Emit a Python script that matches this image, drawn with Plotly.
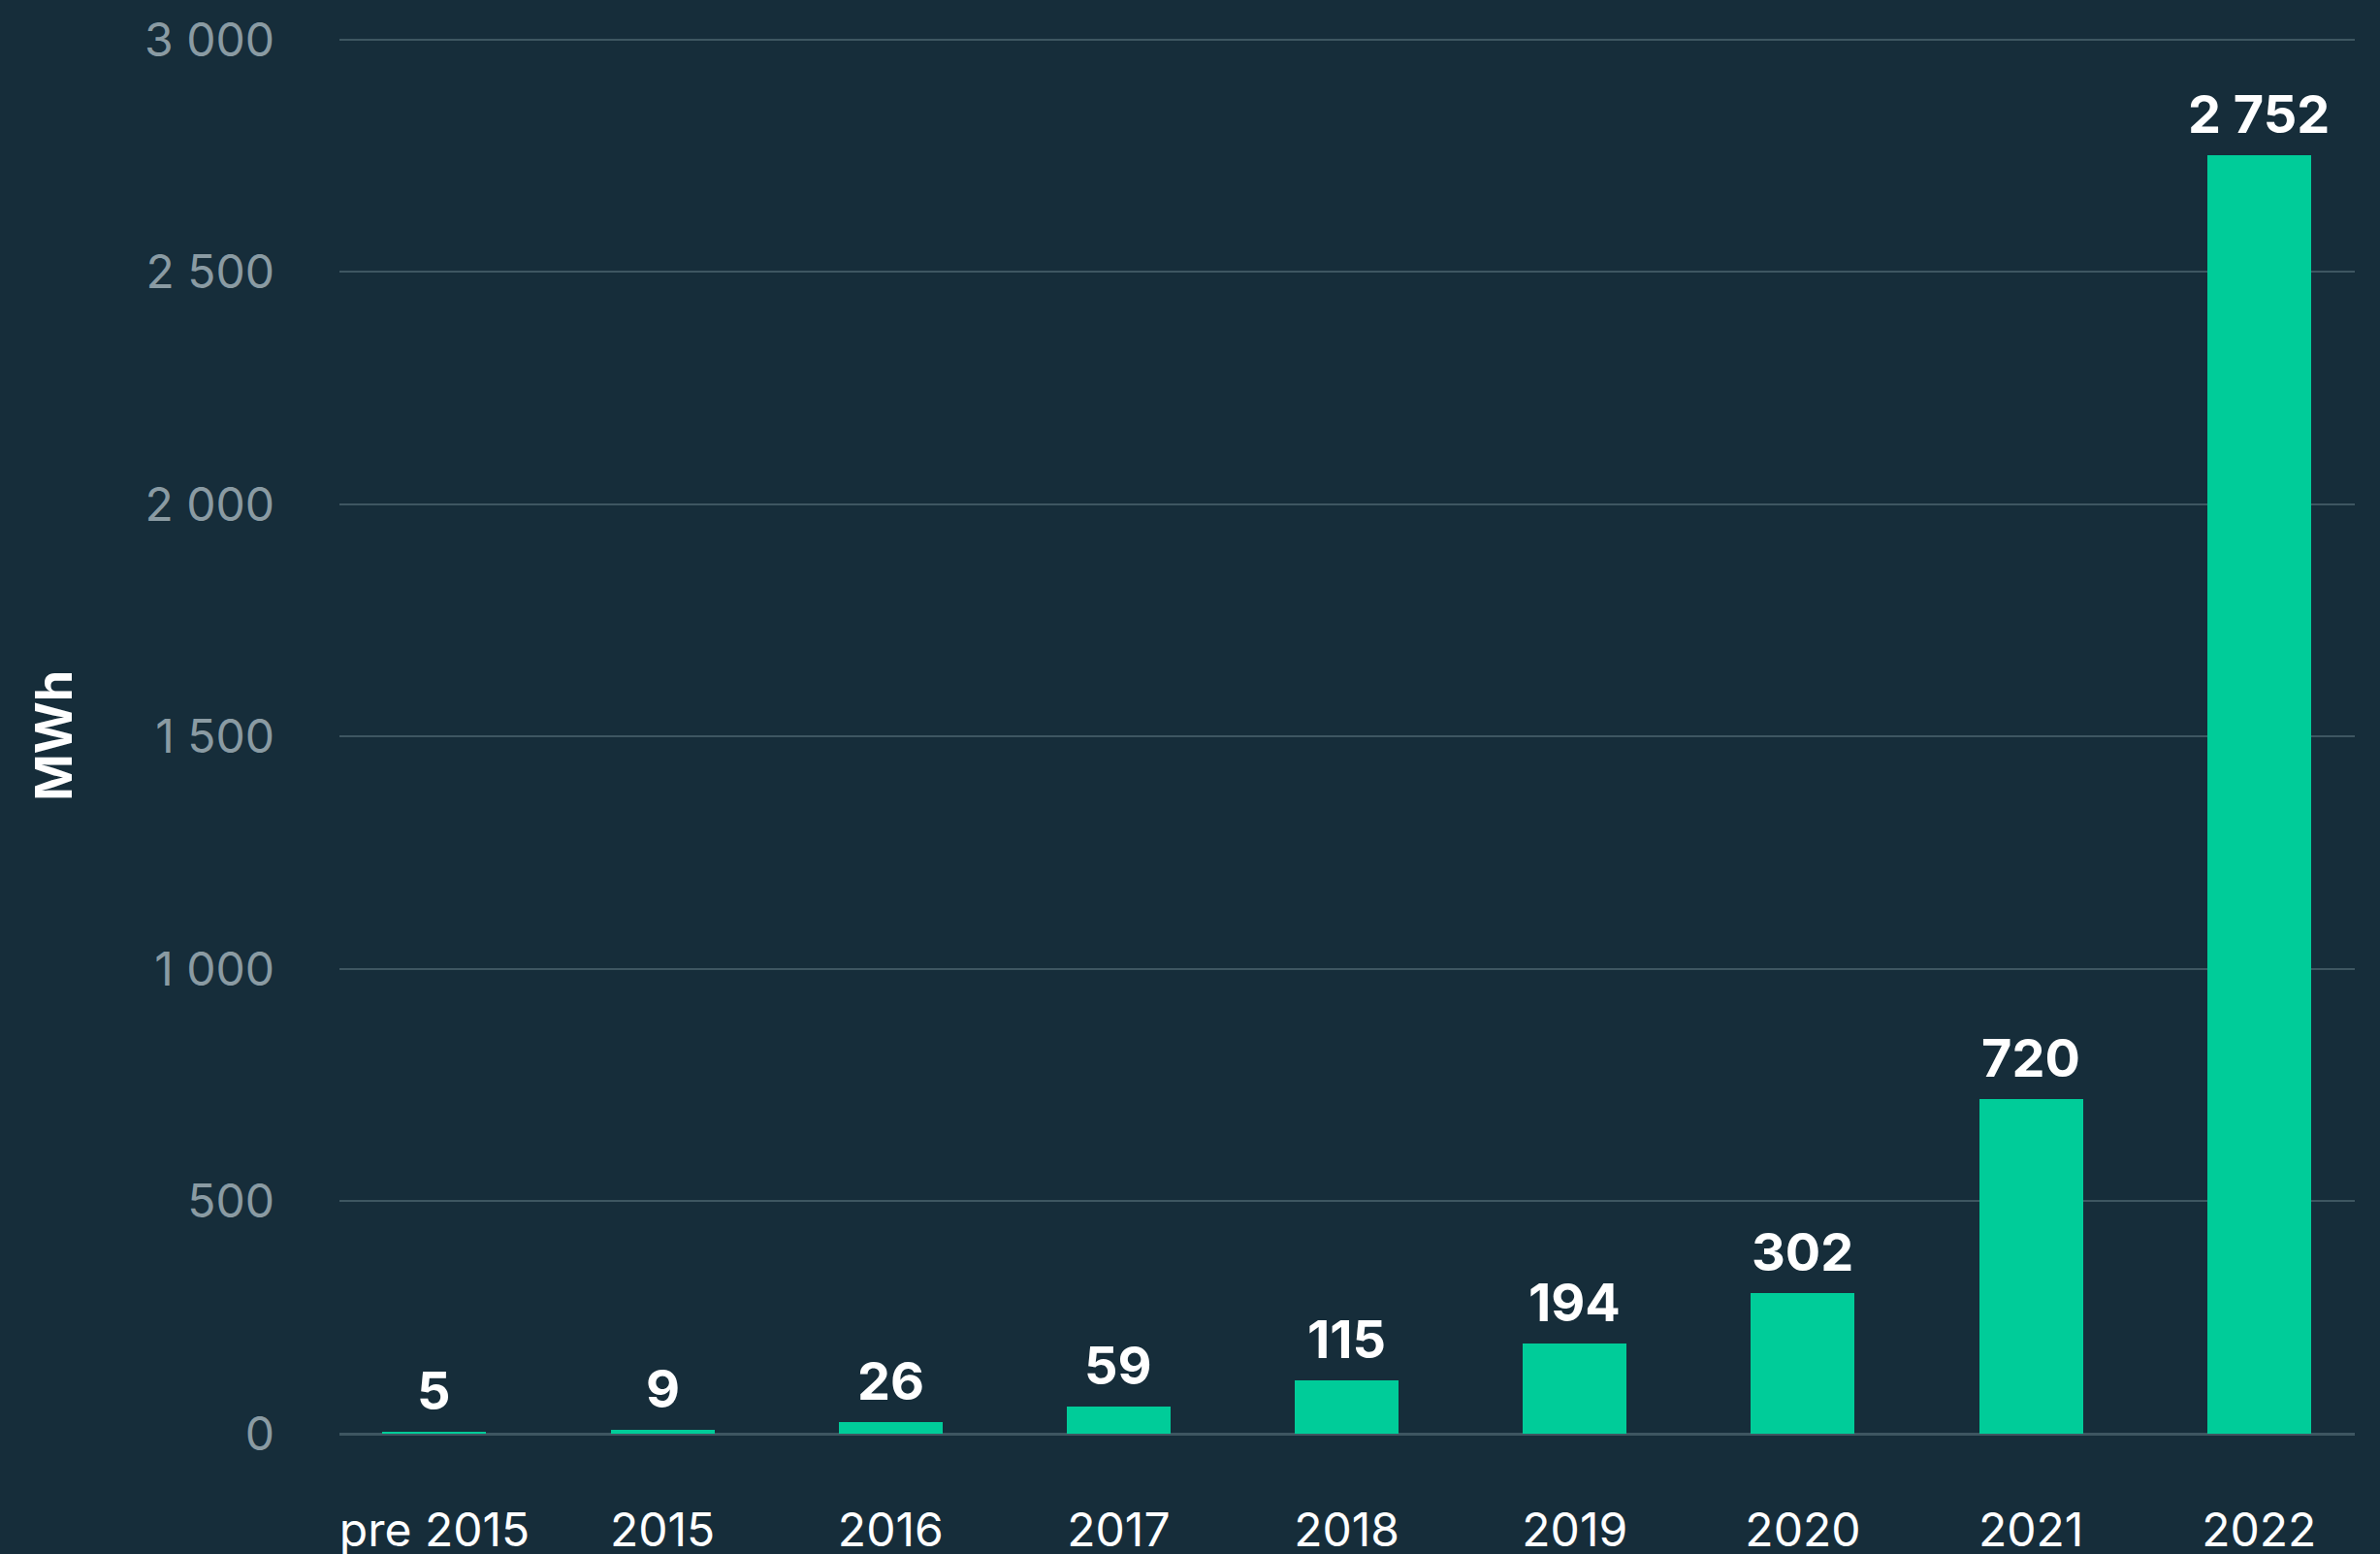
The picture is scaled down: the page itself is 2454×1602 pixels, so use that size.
import plotly.graph_objects as go

categories = ["pre 2015", "2015", "2016", "2017", "2018", "2019", "2020", "2021", "2022"]
values = [5, 9, 26, 59, 115, 194, 302, 720, 2752]
y_ticks = [0, 500, 1000, 1500, 2000, 2500, 3000]
y_title = "MWh"

BG = "#162d3a"
BAR = "#00cc99"
GRID = "#3e5661"
FONT = "Inter, Noto Sans, sans-serif"

fig = go.Figure()
fig.add_trace(go.Bar(
    x=list(range(len(categories))), y=values,
    marker=dict(color=BAR, line=dict(width=0)),
    width=0.455,
    hoverinfo="skip",
))

for i, v in enumerate(values):
    fig.add_annotation(
        x=i, y=v, xref="x", yref="y",
        text=f"{v:,}".replace(",", " "),
        showarrow=False, yanchor="bottom", yshift=8,
        font=dict(family=FONT, size=54, color="white", weight="bold"),
    )

fig.add_annotation(
    x=-0.1419, y=0.5, xref="paper", yref="paper",
    text=y_title, textangle=-90, showarrow=False,
    xanchor="center", yanchor="middle",
    font=dict(family=FONT, size=52, color="white", weight="bold"),
)

fig.update_layout(
    width=2454, height=1602,
    margin=dict(l=350, r=26, t=39, b=124, autoexpand=False),
    paper_bgcolor=BG, plot_bgcolor=BG,
    separators=", ",
    showlegend=False,
    bargap=0,
)
fig.update_xaxes(
    tickmode="array", tickvals=list(range(len(categories))), ticktext=categories,
    range=[-0.4166, 8.42], showgrid=False, zeroline=False, showline=False,
    ticks="", ticklabelstandoff=67,
    tickfont=dict(family=FONT, size=48, color="white"),
)
fig.update_yaxes(
    range=[0, 3004], tickmode="array", tickvals=y_ticks, tickformat=",d",
    showgrid=True, gridcolor=GRID, gridwidth=2,
    zeroline=True, zerolinecolor=GRID, zerolinewidth=3,
    showline=False, ticks="", ticklabelstandoff=66,
    tickfont=dict(family=FONT, size=48, color="#8a9ba3"),
)

fig.write_html(
    "out.html",
    config={"displayModeBar": False},
    post_script="document.body.style.margin='0';document.body.style.background='%s';" % BG,
)
